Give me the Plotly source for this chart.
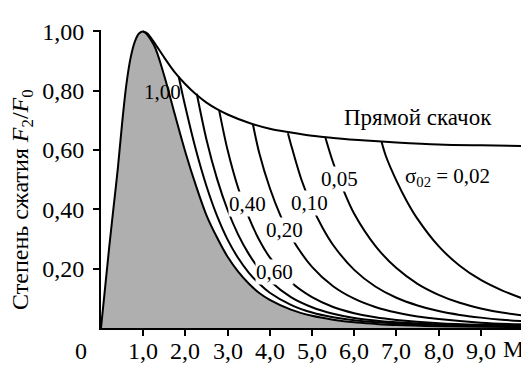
import plotly.graph_objects as go

# ---- data ----
# isentropic branch (left, rising) and sigma = 1.00 boundary of the grey region
m_rise = [0, 0.05, 0.1, 0.15, 0.2, 0.3, 0.4, 0.5, 0.6, 0.7, 0.8, 0.9, 1.0]
f_rise = [0, 0.07, 0.14, 0.21, 0.28, 0.41, 0.54, 0.69, 0.82, 0.91, 0.965, 0.993, 1.0]

m_s100 = [1.0, 1.25, 1.5, 1.75, 2.0, 2.25, 2.5, 2.75, 3.0, 3.25, 3.5, 3.75, 4.0, 4.5, 5.0, 5.5, 6.0, 6.5, 7.0, 8.0, 9.0, 10.0]
f_s100 = [1.0, 0.955, 0.85, 0.72, 0.593, 0.48, 0.38, 0.305, 0.24, 0.19, 0.15, 0.118, 0.095, 0.062, 0.041, 0.028, 0.019, 0.014, 0.010, 0.006, 0.004, 0.003]

# normal shock envelope ("Прямой скачок")
m_shock = [1.0, 1.1, 1.25, 1.5, 1.75, 2.0, 2.25, 2.5, 2.75, 3.0, 3.5, 4.0, 4.5, 5.0, 5.5, 6.0, 7.0, 8.0, 9.0, 10.0]
f_shock = [1.0, 0.993, 0.965, 0.912, 0.862, 0.822, 0.788, 0.760, 0.738, 0.72, 0.692, 0.672, 0.659, 0.648, 0.641, 0.635, 0.626, 0.619, 0.616, 0.614]

m_s080 = [1.84, 2.0, 2.25, 2.5, 2.75, 3.0, 3.25, 3.5, 3.75, 4.0, 4.5, 5.0, 5.5, 6.0, 7.0, 8.0, 9.0, 10.0]
f_s080 = [0.848, 0.745, 0.60, 0.478, 0.378, 0.298, 0.236, 0.187, 0.149, 0.119, 0.078, 0.052, 0.036, 0.026, 0.015, 0.010, 0.008, 0.007]

m_s060 = [2.27, 2.5, 2.75, 3.0, 3.25, 3.5, 3.75, 4.0, 4.5, 5.0, 5.5, 6.0, 7.0, 8.0, 9.0, 10.0]
f_s060 = [0.79, 0.635, 0.503, 0.398, 0.315, 0.25, 0.199, 0.159, 0.104, 0.07, 0.048, 0.034, 0.019, 0.012, 0.009, 0.008]

m_s040 = [2.8, 3.0, 3.25, 3.5, 3.75, 4.0, 4.5, 5.0, 5.5, 6.0, 6.5, 7.0, 8.0, 9.0, 10.0]
f_s040 = [0.734, 0.60, 0.472, 0.374, 0.297, 0.238, 0.155, 0.104, 0.071, 0.05, 0.036, 0.027, 0.016, 0.011, 0.009]

m_s020 = [3.6, 3.75, 4.0, 4.25, 4.5, 5.0, 5.5, 6.0, 6.5, 7.0, 7.5, 8.0, 9.0, 10.0]
f_s020 = [0.687, 0.59, 0.472, 0.38, 0.308, 0.206, 0.141, 0.099, 0.071, 0.052, 0.039, 0.03, 0.018, 0.012]

m_s010 = [4.43, 4.5, 4.75, 5.0, 5.25, 5.5, 6.0, 6.5, 7.0, 7.5, 8.0, 8.5, 9.0, 9.5, 10.0]
f_s010 = [0.657, 0.62, 0.50, 0.41, 0.338, 0.28, 0.196, 0.14, 0.102, 0.076, 0.057, 0.044, 0.035, 0.028, 0.023]

m_s005 = [5.32, 5.5, 5.75, 6.0, 6.5, 7.0, 7.5, 8.0, 8.5, 9.0, 9.5, 10.0]
f_s005 = [0.641, 0.558, 0.463, 0.385, 0.277, 0.202, 0.149, 0.112, 0.085, 0.066, 0.052, 0.042]

m_s002 = [6.65, 6.75, 7.0, 7.25, 7.5, 8.0, 8.5, 9.0, 9.5, 10.0]
f_s002 = [0.627, 0.58, 0.497, 0.427, 0.368, 0.276, 0.21, 0.162, 0.127, 0.099]

x_tickvals = [0, 1, 2, 3, 4, 5, 6, 7, 8, 9, 10]
x_ticktext = ["0", "1,0", "2,0", "3,0", "4,0", "5,0", "6,0", "7,0", "8,0", "9,0", "M<sub>0</sub>"]
y_tickvals = [0.2, 0.4, 0.6, 0.8, 1.0]
y_ticktext = ["0,20", "0,40", "0,60", "0,80", "1,00"]

# curve labels: (text, M, F, white background?, font size)
labels = [
    ("1,00", 1.45, 0.795, False, 21),
    ("0,40", 3.48, 0.418, True, 21),
    ("0,60", 4.10, 0.19, True, 21),
    ("0,20", 4.36, 0.33, True, 21),
    ("0,10", 4.95, 0.421, True, 21),
    ("0,05", 5.64, 0.502, True, 21),
    ("σ<sub>02</sub> = 0,02", 8.22, 0.509, True, 21),
    ("Прямой скачок", 7.51, 0.71, True, 23),
]

FONT = "Liberation Serif"
LINE = dict(color="black", width=2, shape="spline", smoothing=0.9)

fig = go.Figure()

# grey region (isentropic curve, sigma = 1)
fig.add_trace(go.Scatter(
    x=m_rise + m_s100[1:], y=f_rise + f_s100[1:],
    mode="lines", fill="tozeroy", fillcolor="#afafaf",
    line=LINE, hoverinfo="skip", showlegend=False))

for mx, fy in [(m_shock, f_shock), (m_s080, f_s080), (m_s060, f_s060),
               (m_s040, f_s040), (m_s020, f_s020), (m_s010, f_s010),
               (m_s005, f_s005), (m_s002, f_s002)]:
    fig.add_trace(go.Scatter(x=mx, y=fy, mode="lines", line=LINE,
                             hoverinfo="skip", showlegend=False))

for text, mx, fy, bg, fs in labels:
    fig.add_annotation(x=mx, y=fy, text=text, showarrow=False,
                       font=dict(family=FONT, size=fs, color="black"),
                       bgcolor="white" if bg else "rgba(0,0,0,0)",
                       borderpad=0)

# x tick labels as text placed under the axis ticks
for v, t in zip(x_tickvals, x_ticktext):
    kw = dict(xanchor="center", xshift=0)
    if v == 0:
        kw = dict(xanchor="center", xshift=-20)
    elif v == 10:
        kw = dict(xanchor="left", xshift=-22)
    fig.add_annotation(x=v, y=0, xref="x", yref="paper", text=t,
                       showarrow=False, yanchor="middle", yshift=-23,
                       font=dict(family=FONT, size=24, color="black"), **kw)

fig.add_annotation(x=-0.187, y=0.43, xref="paper", yref="paper",
                   xanchor="center", yanchor="middle", textangle=-90,
                   text="Степень сжатия <i>F</i><sub>2</sub>/<i>F</i><sub>0</sub>",
                   showarrow=False, font=dict(family=FONT, size=24, color="black"))

# the page adds an 8 px body margin, so the figure is laid out 8 px up/left
fig.update_layout(
    width=529, height=365,
    margin=dict(l=93, r=14, t=11, b=45),
    paper_bgcolor="white", plot_bgcolor="white",
    font=dict(family=FONT, size=24, color="black"),
    xaxis=dict(range=[0, 10], tickvals=x_tickvals[1:], showticklabels=False,
               showgrid=False, zeroline=False, showline=True, linecolor="black",
               linewidth=2, ticks="outside", ticklen=6, tickwidth=1.5,
               tickcolor="black"),
    yaxis=dict(range=[0, 1.005], tickvals=y_tickvals, ticktext=y_ticktext,
               showgrid=False, zeroline=False, showline=True, linecolor="black",
               linewidth=2, ticks="outside", ticklen=6, tickwidth=1.5,
               tickcolor="black", ticklabelstandoff=4,
               ticklabeloverflow="allow",
               tickfont=dict(family=FONT, size=24)),
)

fig.write_html("out.html")
